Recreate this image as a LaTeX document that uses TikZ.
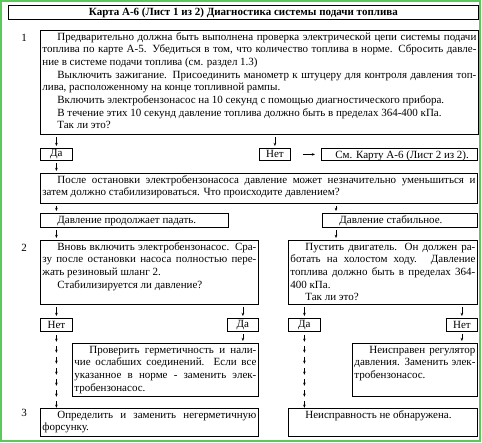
\documentclass[tikz,border=0pt]{standalone}
\usepackage{fontspec}
\setmainfont{Liberation Serif}
\usetikzlibrary{arrows.meta}

\definecolor{ramka}{RGB}{90,200,90}

\newcommand{\tekst}{\fontsize{11}{12.65}\selectfont}
\newcommand{\otst}{\hspace{15pt}}
\newcommand{\jrow}[1]{\makebox[\linewidth][s]{\strut#1}}
\newcommand{\lrow}[1]{\makebox[\linewidth][l]{\strut#1}}
\newcommand{\pole}[3]{\parbox[c][\dimexpr#2pt-\ypad*2\relax][t]{\dimexpr#1pt-\xpad*2\relax}{#3}}

\tikzset{
  karta/.style={draw, line width=0.8pt, anchor=north west, inner xsep=\xpad, inner ysep=\ypad, font=\tekst},
  strz/.style={-{Stealth[length=3.2pt,width=2.6pt]}, line width=0.6pt, shorten <=2pt, shorten >=2pt},
}

\begin{document}
\begin{tikzpicture}[x=1pt, y=-1pt]

% Parametry
\def\xpad{2pt}
\def\ypad{1pt}

\useasboundingbox (0,0) rectangle (482,443);
\draw[ramka, line width=2pt] (1,1) rectangle (480,441);

% ---------- Naglowek ----------
\node[karta, minimum width=470pt, minimum height=14pt, font=\tekst\bfseries] (tytul) at (8,5)
  {Карта А-6 (Лист 1 из 2) Диагностика системы подачи топлива};

% ---------- Krok 1 ----------
\node[font=\tekst] (nr1) at (24,38) {1};
\node[karta] (b1) at (40,30) {\pole{438}{104}{%
  \jrow{\otst Предварительно должна быть выполнена проверка электрической цепи системы подачи}\\
  \jrow{топлива по карте А-5. Убедиться в том, что количество топлива в норме. Сбросить давле-}\\
  \lrow{ние в системе подачи топлива (см. раздел 1.3)}\\
  \jrow{\otst Выключить зажигание. Присоединить манометр к штуцеру для контроля давления топ-}\\
  \lrow{лива, расположенному на конце топливной рампы.}\\
  \lrow{\otst Включить электробензонасос на 10 секунд с помощью диагностического прибора.}\\
  \lrow{\otst В течение этих 10 секунд давление топлива должно быть в пределах 364-400 кПа.}\\
  \lrow{\otst Так ли это?}}};

\node[karta, minimum width=32pt, minimum height=12pt] (da1) at (40,148) {Да};
\node[karta, minimum width=31pt, minimum height=12pt] (net1) at (259,148) {Нет};
\node[karta] (karta2) at (321,148) {\pole{156}{12}{%
  \lrow{\hspace{12pt}См. Карту А-6 (Лист 2 из 2).}}};

\node[karta] (posle) at (40,173) {\pole{437}{30}{%
  \jrow{\otst После остановки электробензонасоса давление может незначительно уменьшиться и}\\
  \lrow{затем должно стабилизироваться. Что происходите давлением?}}};

\node[karta] (spad) at (40,213) {\pole{188}{14}{\lrow{\otst Давление продолжает падать.}}};
\node[karta] (stab) at (322,213) {\pole{155}{14}{\lrow{\otst Давление стабильное.}}};
\coordinate (xs) at ([xshift=14pt]stab.north west);

% ---------- Krok 2 ----------
\node[font=\tekst] (nr2) at (24,248) {2};
\node[karta] (b2l) at (40,240) {\pole{218}{64}{%
  \jrow{\otst Вновь включить электробензонасос. Сра-}\\
  \jrow{зу после остановки насоса полностью пере-}\\
  \lrow{жать резиновый шланг 2.}\\
  \lrow{\otst Стабилизируется ли давление?}}};
\node[karta] (b2r) at (288,240) {\pole{189}{64}{%
  \jrow{\otst Пустить двигатель. Он должен ра-}\\
  \jrow{ботать на холостом ходу. Давление}\\
  \jrow{топлива должно быть в пределах 364-}\\
  \lrow{400 кПа.}\\
  \lrow{\otst Так ли это?}}};

\node[karta, minimum width=32pt, minimum height=13pt] (net2) at (40,318) {Нет};
\node[karta, minimum width=31pt, minimum height=13pt] (da2) at (227,318) {Да};
\node[karta, minimum width=32pt, minimum height=13pt] (da3) at (288,318) {Да};
\node[karta, minimum width=31pt, minimum height=13pt] (net3) at (446,318) {Нет};

\node[karta] (prov) at (72,343) {\pole{186}{53}{%
  \jrow{\otst Проверить герметичность и нали-}\\
  \jrow{чие ослабших соединений. Если все}\\
  \jrow{указанное в норме - заменить элек-}\\
  \lrow{тробензонасос.}}};
\node[karta] (regul) at (352,343) {\pole{125}{53}{%
  \jrow{\otst Неисправен регулятор}\\
  \jrow{давления. Заменить элек-}\\
  \lrow{тробензонасос.}}};

% ---------- Krok 3 ----------
\node[font=\tekst] (nr3) at (24,413) {3};
\node[karta] (b3l) at (40,408) {\pole{218}{28}{%
  \jrow{\otst Определить и заменить негерметичную}\\
  \lrow{форсунку.}}};
\node[karta] (b3r) at (288,408) {\pole{189}{28}{%
  \lrow{\otst Неисправность не обнаружена.}}};

% ---------- Strzalki ----------
\draw[strz] (b1.south -| da1.north) -- (da1.north);
\draw[strz] (b1.south -| net1.north) -- (net1.north);
\draw[strz, shorten <=12pt, shorten >=6pt] (net1.east) -- (karta2.west);
\draw[strz] (da1.south) -- (posle.north -| da1.south);
\draw[strz] (posle.south -| da1.south) -- (spad.north -| da1.south);
\draw[strz] (posle.south -| xs) -- (xs);
\draw[strz] (spad.south -| da1.south) -- (b2l.north -| da1.south);
\draw[strz] (stab.south -| xs) -- (b2r.north -| xs);
\draw[strz] (b2l.south -| net2.north) -- (net2.north);
\draw[strz] (b2l.south -| da2.north) -- (da2.north);
\draw[strz] (b2r.south -| da3.north) -- (da3.north);
\draw[strz] (b2r.south -| net3.north) -- (net3.north);
\draw[strz] (da2.south) -- (prov.north -| da2.south);
\draw[strz] (net3.south) -- (regul.north -| net3.south);

% lancuszki strzalek do kroku 3
\foreach \k in {0,...,6} {
  \draw[strz, shorten <=0pt, shorten >=0pt] ([yshift={-3pt-\k*11pt}]net2.south) -- ++(0,7);
  \draw[strz, shorten <=0pt, shorten >=0pt] ([yshift={-3pt-\k*11pt}]da3.south) -- ++(0,7);
}

\end{tikzpicture}
\end{document}
